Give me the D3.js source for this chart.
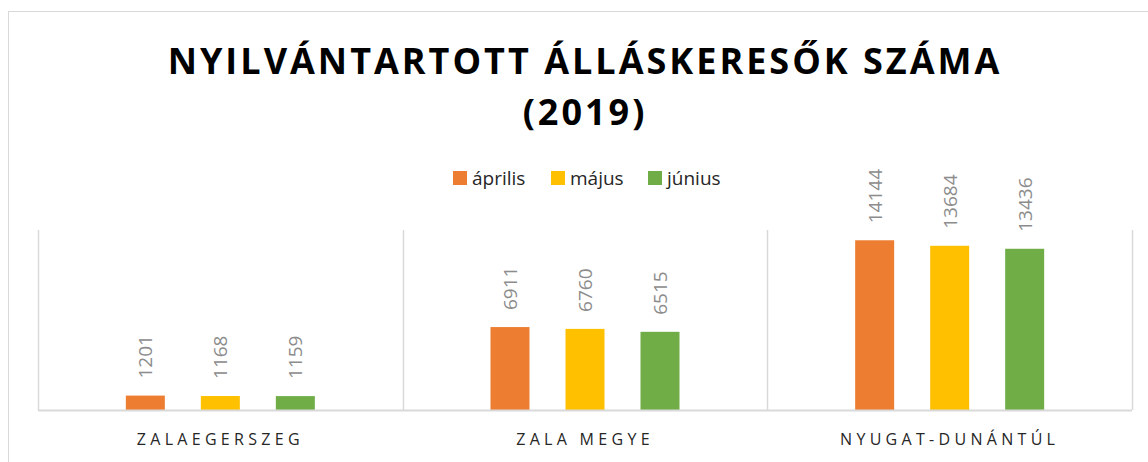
<!DOCTYPE html>
<html>
<head>
<meta charset="utf-8">
<script src="https://cdn.jsdelivr.net/npm/d3@7"></script>
<style>
body{margin:0;background:#fff;}
text{font-family:"Open Sans",sans-serif;}
</style>
</head>
<body>
<svg id="graph"></svg>
<script>
var categories=["ZALAEGERSZEG","ZALA MEGYE","NYUGAT-DUNÁNTÚL"]
var months=["április","május","június"]
var aprilis=[1201,6911,14144]
var majus=[1168,6760,13684]
var junius=[1159,6515,13436]
var colors=["#ED7D31","#FFC000","#70AD47"]

var screen={width:1148,height:462}
var margins={left:38,right:16,top:230,bottom:52}

var graph=
    {
        width:screen.width-margins.left-margins.right,
        height:screen.height-margins.top-margins.bottom
    }

var svg=d3.select("#graph")
    .attr("width",screen.width)
    .attr("height",screen.height)

// chart frame
svg.append("rect")
    .attr("x",8.5)
    .attr("y",11.5)
    .attr("width",screen.width+10)
    .attr("height",screen.height+10)
    .attr("fill","none")
    .attr("stroke","#d9d9d9")
    .attr("stroke-width",1)

var title=svg.append("text")
    .attr("text-anchor","middle")
    .attr("font-weight","bold")
    .attr("font-size","36px")
    .attr("letter-spacing","3px")
    .attr("fill","#000")
title.append("tspan").attr("x",585).attr("y",74).text("NYILVÁNTARTOTT ÁLLÁSKERESŐK SZÁMA")
title.append("tspan").attr("x",585).attr("y",125).text("(2019)")

var data=[]
categories.forEach(function(c,i)
    {
        data.push({cat:c,values:[aprilis[i],majus[i],junius[i]]})
    })

var target=svg.append("g")
    .attr("transform","translate("+margins.left+","+margins.top+")")

var xScale=d3.scaleBand()
    .domain(categories)
    .range([0,graph.width])

var xInner=d3.scaleBand()
    .domain(months)
    .range([xScale.bandwidth()/2-112.5,xScale.bandwidth()/2+112.5])
    .paddingInner(0.48)
    .paddingOuter(0.24)

var yScale=d3.scaleLinear()
    .domain([0,15000])
    .range([graph.height,0])

// vertical gridlines between categories
var gridX=categories.map(function(c){return xScale(c)}).concat([graph.width])
target.append("g")
    .selectAll("line")
    .data(gridX)
    .enter()
    .append("line")
    .attr("x1",function(d){return Math.round(d)+0.5})
    .attr("x2",function(d){return Math.round(d)+0.5})
    .attr("y1",0)
    .attr("y2",graph.height)
    .attr("stroke","#d9d9d9")
    .attr("stroke-width",1.5)

var groups=target.selectAll(".cat")
    .data(data)
    .enter()
    .append("g")
    .attr("transform",function(d){return "translate("+xScale(d.cat)+",0)"})

groups.selectAll("rect")
    .data(function(d){return d.values.map(function(v,i){return {m:months[i],v:v,i:i}})})
    .enter()
    .append("rect")
    .attr("x",function(d){return xInner(d.m)})
    .attr("y",function(d){return yScale(d.v)})
    .attr("width",xInner.bandwidth())
    .attr("height",function(d){return graph.height-yScale(d.v)})
    .attr("fill",function(d){return colors[d.i]})

groups.selectAll(".lbl")
    .data(function(d){return d.values.map(function(v,i){return {m:months[i],v:v,i:i}})})
    .enter()
    .append("text")
    .attr("transform",function(d)
        {
            return "translate("+(xInner(d.m)+xInner.bandwidth()/2+7)+","+(yScale(d.v)-17)+") rotate(-90)"
        })
    .attr("font-size","19px")
    .attr("fill","#8c8c8c")
    .text(function(d){return d.v})

// baseline
target.append("line")
    .attr("x1",0)
    .attr("x2",graph.width)
    .attr("y1",graph.height+0.5)
    .attr("y2",graph.height+0.5)
    .attr("stroke","#d9d9d9")
    .attr("stroke-width",2)

// category labels
target.append("g")
    .selectAll("text")
    .data(categories)
    .enter()
    .append("text")
    .attr("x",function(d){return xScale(d)+xScale.bandwidth()/2})
    .attr("y",graph.height+35)
    .attr("text-anchor","middle")
    .attr("font-size","16px")
    .attr("letter-spacing","4.3px")
    .attr("fill","#262626")
    .text(function(d){return d})

// legend
var legendX=[453,551,648]
var legend=svg.append("g")
    .selectAll("g")
    .data(months)
    .enter()
    .append("g")
    .attr("transform",function(d,i){return "translate("+legendX[i]+",171)"})
legend.append("rect")
    .attr("width",14)
    .attr("height",14)
    .attr("fill",function(d,i){return colors[i]})
legend.append("text")
    .attr("x",19)
    .attr("y",14)
    .attr("font-size","19px")
    .attr("fill","#262626")
    .text(function(d){return d})
</script>
</body>
</html>
